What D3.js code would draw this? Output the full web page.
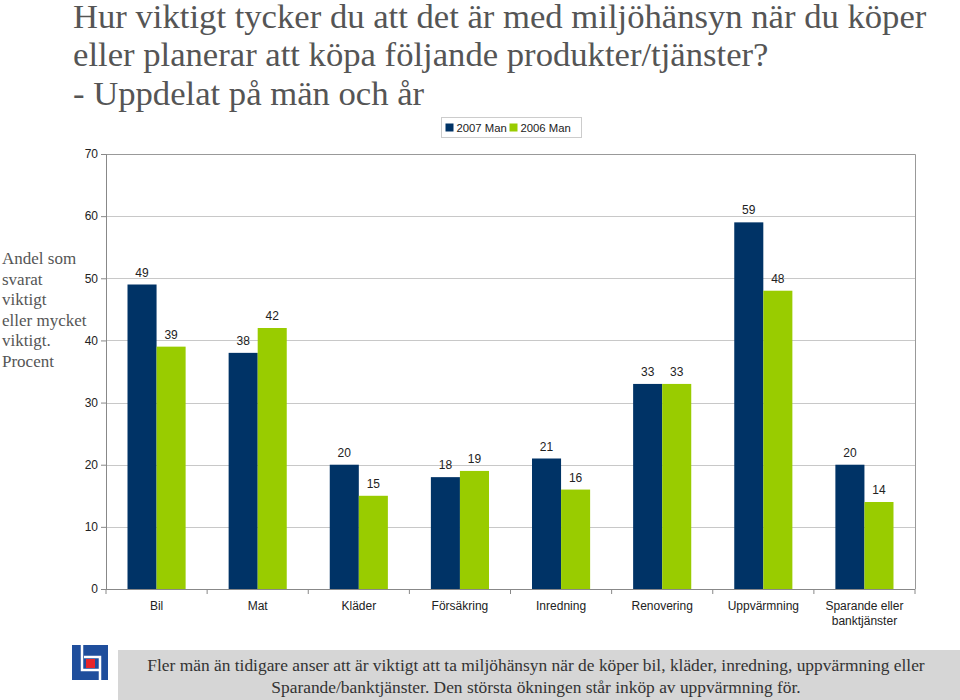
<!DOCTYPE html>
<html><head><meta charset="utf-8">
<script src="https://cdn.jsdelivr.net/npm/d3@7"></script>
<style>body{margin:0;background:#fff}svg{display:block}</style>
</head><body>
<script>
const categories = ["Bil","Mat","Kläder","Försäkring","Inredning","Renovering","Uppvärmning","Sparande eller banktjänster"];
const categoryLines = [["Bil"],["Mat"],["Kläder"],["Försäkring"],["Inredning"],["Renovering"],["Uppvärmning"],["Sparande eller","banktjänster"]];
const seriesNames = ["2007 Man","2006 Man"];
const values2007 = [49,38,20,18,21,33,59,20];
const values2006 = [39,42,15,19,16,33,48,14];
const yTicks = [0,10,20,30,40,50,60,70];
const titleLines = ["Hur viktigt tycker du att det är med miljöhänsyn när du köper","eller planerar att köpa följande produkter/tjänster?","- Uppdelat på män och år"];
const yTitleLines = ["Andel som","svarat","viktigt","eller mycket","viktigt.","Procent"];
const footerLines = ["Fler män än tidigare anser att är viktigt att ta miljöhänsyn när de köper bil, kläder, inredning, uppvärmning eller","Sparande/banktjänster. Den största ökningen står inköp av uppvärmning för."];
const colors = ["#003366","#99cc00"];

(function(){
const W=960,H=700;
const svg=d3.select("body").append("svg").attr("width",W).attr("height",H);
const serif="'Liberation Serif','Times New Roman',serif";
const sans="'Liberation Sans',Arial,sans-serif";

// title
const tb=[28,66,105];
svg.append("g").attr("transform","translate(73,0) scale(1.05,1)")
  .selectAll("text").data(titleLines).join("text")
  .attr("x",0).attr("y",(d,i)=>tb[i]).attr("font-family",serif).attr("font-size",33)
  .attr("fill","#555").text(d=>d);

const pL=106,pR=915,pT=154,pB=589;
const y=d3.scaleLinear().domain([0,70]).range([pB,pT]);
const x0=d3.scaleBand().domain(categories).range([pL,pR]).padding(0);
const x1=d3.scaleBand().domain(seriesNames).range([0,x0.bandwidth()]).paddingInner(0).paddingOuter(0.74);

// gridlines
svg.append("g").selectAll("line").data(yTicks.filter(t=>t>0&&t<70)).join("line")
  .attr("x1",pL).attr("x2",pR).attr("y1",d=>Math.round(y(d))+0.5).attr("y2",d=>Math.round(y(d))+0.5)
  .attr("stroke","#c8c8c8").attr("stroke-width",1);
// frame top/right
svg.append("path").attr("d",`M${pL},${pT+0.5}H${pR+0.5}V${pB}`).attr("fill","none").attr("stroke","#999");

// bars
const data=categories.map((c,i)=>({c,vals:[values2007[i],values2006[i]]}));
const g=svg.append("g").selectAll("g").data(data).join("g").attr("transform",d=>`translate(${x0(d.c)},0)`);
g.selectAll("rect").data(d=>d.vals.map((v,j)=>({s:seriesNames[j],v,j}))).join("rect")
  .attr("x",d=>x1(d.s)).attr("width",x1.bandwidth()).attr("y",d=>y(d.v)).attr("height",d=>pB-y(d.v))
  .attr("fill",d=>colors[d.j]);
g.selectAll("text").data(d=>d.vals.map((v,j)=>({s:seriesNames[j],v,j}))).join("text")
  .attr("x",d=>x1(d.s)+x1.bandwidth()/2).attr("y",d=>y(d.v)-8).attr("text-anchor","middle")
  .attr("font-family",sans).attr("font-size",12).attr("fill","#222").text(d=>d.v);

// y axis
const ya=svg.append("g").attr("transform",`translate(${pL},0)`)
  .call(d3.axisLeft(y).tickValues(yTicks).tickSize(5).tickPadding(3));
ya.select(".domain").attr("stroke","#888");
ya.selectAll(".tick line").attr("stroke","#888");
ya.selectAll(".tick text").attr("font-family",sans).attr("font-size",12).attr("fill","#222");

// x axis
const xa=svg.append("g").attr("transform",`translate(0,${pB})`);
xa.append("line").attr("x1",pL).attr("x2",pR).attr("y1",0.5).attr("y2",0.5).attr("stroke","#888");
xa.selectAll("line.t").data(d3.range(categories.length+1)).join("line").attr("class","t")
  .attr("x1",i=>pL+i*x0.step()).attr("x2",i=>pL+i*x0.step()).attr("y1",0).attr("y2",5).attr("stroke","#888");
xa.selectAll("text").data(categories).join("text")
  .attr("x",d=>x0(d)+x0.bandwidth()/2).attr("text-anchor","middle")
  .attr("font-family",sans).attr("font-size",12).attr("fill","#222")
  .each(function(d,i){const t=d3.select(this);categoryLines[i].forEach((l,k)=>t.append("tspan").attr("x",x0(d)+x0.bandwidth()/2).attr("y",21+k*15).text(l));});

// y title
svg.append("g").selectAll("text").data(yTitleLines).join("text")
  .attr("x",2).attr("y",(d,i)=>264+i*20.5).attr("font-family",serif).attr("font-size",17)
  .attr("fill","#555").text(d=>d);

// legend
const lg=svg.append("g").attr("transform","translate(441.5,117.5)");
lg.append("rect").attr("width",140).attr("height",20).attr("fill","#fff").attr("stroke","#ccc");
const lx=[4,68];
seriesNames.forEach((s,i)=>{
  lg.append("rect").attr("x",lx[i]).attr("y",6).attr("width",8).attr("height",8).attr("fill",colors[i]);
  lg.append("text").attr("x",lx[i]+11).attr("y",14).attr("font-family",sans).attr("font-size",11.3).attr("fill","#222").text(s);
});

// footer
svg.append("rect").attr("x",118).attr("y",650).attr("width",842).attr("height",50).attr("fill","#d6d6d6");
svg.append("g").selectAll("text").data(footerLines).join("text")
  .attr("x",536).attr("y",(d,i)=>671+i*22).attr("text-anchor","middle").attr("font-family",serif)
  .attr("font-size",17.4).attr("fill","#333").text(d=>d);

// logo
const lgo=svg.append("g");
lgo.append("rect").attr("x",72).attr("y",645).attr("width",36).attr("height",35).attr("fill","#1f4e9c");
lgo.append("path").attr("d","M82,645V670H99").attr("fill","none").attr("stroke","#fff").attr("stroke-width",2.5);
lgo.append("path").attr("d","M84,657H100V680").attr("fill","none").attr("stroke","#fff").attr("stroke-width",2.5);
lgo.append("rect").attr("x",86).attr("y",659).attr("width",9).attr("height",9).attr("fill","#e8262a");
})();
</script>
</body></html>
